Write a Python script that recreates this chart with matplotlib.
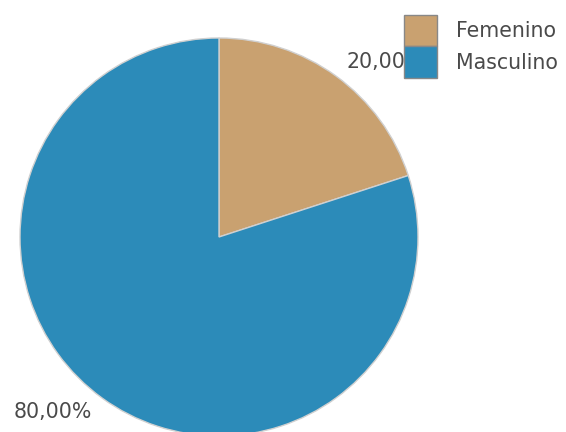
import matplotlib
matplotlib.use("Agg")
import matplotlib.pyplot as plt

categories = ["Femenino", "Masculino"]
values = [20.0, 80.0]
pct_labels = ["20,00%", "80,00%"]
colors = ["#C9A170", "#2C8BB9"]

W, H = 566, 432
CX, CY = 219, 195
fig = plt.figure(figsize=(W / 100, H / 100), dpi=100)
ax = fig.add_axes([0, 0, 1, 1])

wedges, texts = ax.pie(
    values,
    labels=pct_labels,
    colors=colors,
    startangle=90,
    counterclock=False,
    center=(CX, CY),
    radius=199,
    labeldistance=1.09,
    frame=True,
    wedgeprops=dict(edgecolor="#d0d0d0", linewidth=1.0),
    textprops=dict(fontsize=14.8, color="#4a4a4a"),
)
# fix horizontal alignment relative to the pie centre
for t in texts:
    x, y = t.get_position()
    t.set_ha("left" if x > CX else "right")
ax.set_xlim(0, W)
ax.set_ylim(0, H)
ax.set_aspect("equal")
ax.axis("off")

leg = fig.legend(
    wedges, categories,
    loc="upper left",
    bbox_to_anchor=(404 / W, 1 - 15 / H),
    frameon=False,
    fontsize=14.8,
    handlelength=1.62,
    handleheight=1.97,
    handletextpad=0.9,
    labelspacing=0.0,
    borderpad=0,
    borderaxespad=0,
)
for t in leg.get_texts():
    t.set_color("#4a4a4a")
for h in leg.legend_handles:
    h.set_edgecolor("#888888")

fig.savefig("out.png", dpi=100)
